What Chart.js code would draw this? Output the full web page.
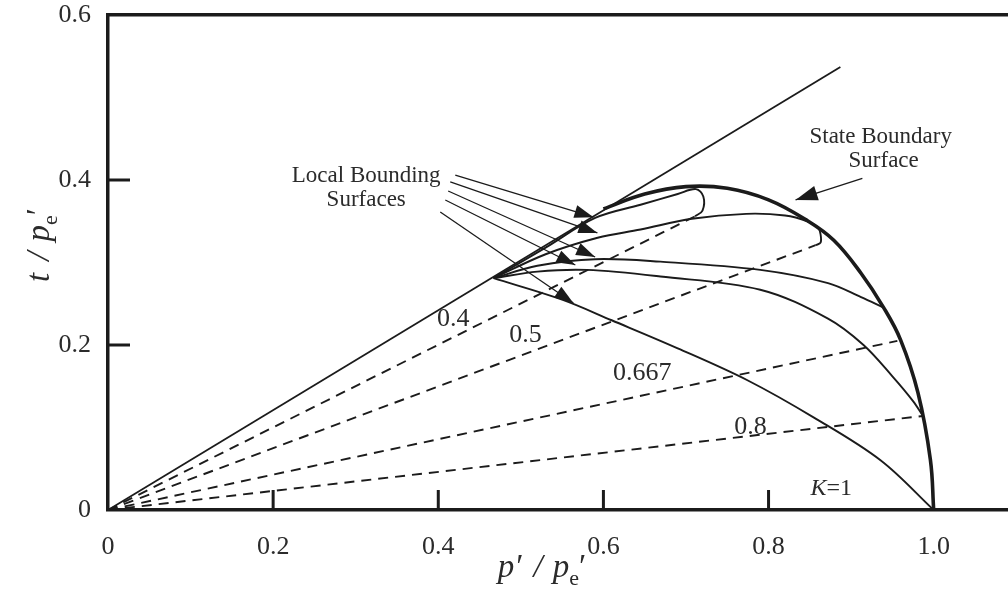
<!DOCTYPE html>
<html><head><meta charset="utf-8">
<script src="https://cdn.jsdelivr.net/npm/chart.js@4.4.0/dist/chart.umd.min.js"></script>
<style>html,body{margin:0;padding:0;background:#fff;}canvas{display:block;}</style>
</head><body>
<canvas id="c" width="1008" height="592"></canvas>
<script>
// ---- tick labels ----
const xTickValues = [0, 0.2, 0.4, 0.6, 0.8, 1.0];
const xTickLabels = ['0', '0.2', '0.4', '0.6', '0.8', '1.0'];
const yTickValues = [0, 0.2, 0.4, 0.6];
const yTickLabels = ['0', '0.2', '0.4', '0.6'];

// ---- critical state line ----
const cslP = [0, 0.887];
const cslT = [0, 0.537];

// ---- K lines (dashed) ----
const kLabels = ['0.4', '0.5', '0.667', '0.8'];
const kEndP = [0.711, 0.857, 0.956, 0.987];
const kEndT = [0.356, 0.321, 0.205, 0.114];

// ---- state boundary surface ----
const sbsP = [0.600, 0.650, 0.700, 0.750, 0.800, 0.845, 0.879, 0.912, 0.939, 0.960, 0.981, 0.996, 1.000];
const sbsT = [0.365, 0.383, 0.392, 0.390, 0.376, 0.352, 0.327, 0.287, 0.246, 0.206, 0.142, 0.061, 0.000];

// ---- local bounding surfaces ----
const lbs04P = [0.467, 0.530, 0.590, 0.645, 0.690, 0.712, 0.721, 0.720, 0.711];
const lbs04T = [0.281, 0.318, 0.354, 0.370, 0.383, 0.389, 0.380, 0.363, 0.356];
const lbs05P = [0.467, 0.530, 0.593, 0.645, 0.707, 0.773, 0.820, 0.847, 0.860, 0.863, 0.863, 0.857];
const lbs05T = [0.281, 0.310, 0.330, 0.340, 0.353, 0.359, 0.357, 0.350, 0.342, 0.334, 0.324, 0.321];
const lbs0667P = [0.467, 0.520, 0.590, 0.669, 0.790, 0.872, 0.912, 0.940];
const lbs0667T = [0.281, 0.296, 0.304, 0.301, 0.291, 0.275, 0.258, 0.245];
const lbs08P = [0.467, 0.520, 0.580, 0.669, 0.790, 0.872, 0.915, 0.950, 0.975, 0.987];
const lbs08T = [0.281, 0.289, 0.291, 0.283, 0.267, 0.232, 0.200, 0.162, 0.132, 0.114];
const lbs1P = [0.467, 0.550, 0.610, 0.690, 0.775, 0.855, 0.936, 1.000];
const lbs1T = [0.281, 0.255, 0.230, 0.196, 0.157, 0.112, 0.060, 0.000];

// ---- annotation leaders ----
const leadFromP = [0.4206, 0.4145, 0.4120, 0.4085, 0.4024, 0.9136];
const leadFromT = [0.4060, 0.3976, 0.3867, 0.3758, 0.3612, 0.4021];
const leadToP   = [0.5880, 0.5927, 0.5900, 0.5660, 0.5636, 0.8327];
const leadToT   = [0.3550, 0.3358, 0.3067, 0.2970, 0.2510, 0.3758];

// ---- text annotation anchors (data coords) ----
const kLabelP = [0.418, 0.5055, 0.647, 0.778];
const kLabelT = [0.2315, 0.212, 0.166, 0.1006];
const k1LabelAt = [0.876, 0.0255];
const lbsTextAt = [[0.3127, 0.4048], [0.3127, 0.3758]];
const sbsTextAt = [[0.9358, 0.452], [0.9394, 0.423]];

const SERIF = '"Liberation Serif", "Times New Roman", serif';
const INK = '#1b1b1b';
const TXT = '#2b2b2b';

const pts = (P, T) => P.map((p, i) => ({x: p, y: T[i]}));
const base = {showLine: true, pointRadius: 0, borderColor: INK, fill: false};

const datasets = [];
datasets.push({...base, data: pts(sbsP, sbsT), borderWidth: 3.6, tension: 0.4});
datasets.push({...base, data: pts(cslP, cslT), borderWidth: 1.8, tension: 0});
kEndP.forEach((p, i) => datasets.push({...base, data: [{x: 0, y: 0}, {x: p, y: kEndT[i]}], borderWidth: 1.9, borderDash: [10, 7], tension: 0}));
[[lbs04P, lbs04T], [lbs05P, lbs05T], [lbs0667P, lbs0667T], [lbs08P, lbs08T], [lbs1P, lbs1T]].forEach(([P, T]) =>
  datasets.push({...base, data: pts(P, T), borderWidth: 1.9, tension: 0.35}));
leadFromP.forEach((p, i) => datasets.push({...base, data: [{x: p, y: leadFromT[i]}, {x: leadToP[i], y: leadToT[i]}], borderWidth: 1.3, tension: 0}));

function drawRich(ctx, parts, x, y) {
  let w = 0;
  parts.forEach(p => { ctx.font = p.font; p.w = ctx.measureText(p.t).width; w += p.w + (p.dx || 0); });
  let cx = x - w / 2;
  parts.forEach(p => { ctx.font = p.font; cx += (p.dx || 0); ctx.fillText(p.t, cx, y + (p.dy || 0)); cx += p.w; });
}

function arrowHead(ctx, x1, y1, x2, y2, len, half) {
  const a = Math.atan2(y2 - y1, x2 - x1);
  const c = Math.cos(a), s = Math.sin(a);
  ctx.beginPath();
  ctx.moveTo(x2, y2);
  ctx.lineTo(x2 - len * c + half * s, y2 - len * s - half * c);
  ctx.lineTo(x2 - len * c - half * s, y2 - len * s + half * c);
  ctx.closePath();
  ctx.fill();
}

const annot = {
  id: 'annot',
  afterDatasetsDraw(chart) {
    const {ctx, scales: {x, y}} = chart;
    const X = v => x.getPixelForValue(v), Y = v => y.getPixelForValue(v);
    ctx.save();
    // inner tick marks
    ctx.strokeStyle = INK; ctx.lineWidth = 3;
    xTickValues.forEach(v => { if (v > 0 && v < 1) { ctx.beginPath(); ctx.moveTo(X(v), Y(0)); ctx.lineTo(X(v), Y(0) - 20); ctx.stroke(); } });
    yTickValues.forEach(v => { if (v > 0 && v < 0.6) { ctx.beginPath(); ctx.moveTo(X(0), Y(v)); ctx.lineTo(X(0) + 22, Y(v)); ctx.stroke(); } });
    // arrowheads
    ctx.fillStyle = INK;
    leadFromP.forEach((p, i) => {
      const big = i === leadFromP.length - 1;
      arrowHead(ctx, X(p), Y(leadFromT[i]), X(leadToP[i]), Y(leadToT[i]), big ? 22 : 19, big ? 7.5 : 6.5);
    });
    // texts
    ctx.fillStyle = TXT; ctx.textBaseline = 'middle'; ctx.textAlign = 'center';
    ctx.font = '26px ' + SERIF;
    kLabels.forEach((t, i) => ctx.fillText(t, X(kLabelP[i]), Y(kLabelT[i])));
    ctx.textAlign = 'left';
    drawRich(ctx, [{t: 'K', font: 'italic 24px ' + SERIF}, {t: '=1', font: '24px ' + SERIF}], X(k1LabelAt[0]), Y(k1LabelAt[1]));
    ctx.textAlign = 'center';
    ctx.font = '23px ' + SERIF;
    ctx.fillText('Local Bounding', X(lbsTextAt[0][0]), Y(lbsTextAt[0][1]));
    ctx.fillText('Surfaces', X(lbsTextAt[1][0]), Y(lbsTextAt[1][1]));
    ctx.fillText('State Boundary', X(sbsTextAt[0][0]), Y(sbsTextAt[0][1]));
    ctx.fillText('Surface', X(sbsTextAt[1][0]), Y(sbsTextAt[1][1]));
    // axis titles
    ctx.textAlign = 'left'; ctx.textBaseline = 'alphabetic';
    const it = 'italic 33px ' + SERIF, sub = '22px ' + SERIF;
    drawRich(ctx, [{t: 'p′', font: it}, {t: '/', font: it, dx: 12}, {t: 'p', font: it, dx: 10}, {t: 'e', font: sub, dy: 8}, {t: '′', font: it, dx: -2}], 541, 577);
    ctx.translate(49, 246);
    ctx.rotate(-Math.PI / 2);
    drawRich(ctx, [{t: 't', font: it}, {t: '/', font: it, dx: 12}, {t: 'p', font: it, dx: 10}, {t: 'e', font: sub, dy: 8}, {t: '′', font: it, dx: -2}], 0, 0);
    ctx.restore();
  }
};

const tickFont = {family: SERIF, size: 26};
new Chart(document.getElementById('c'), {
  type: 'scatter',
  data: {datasets},
  options: {
    responsive: false, animation: false, devicePixelRatio: 1, events: [],
    layout: {padding: 0},
    plugins: {legend: {display: false}, tooltip: {enabled: false}},
    scales: {
      x: {
        type: 'linear', position: 'bottom', min: 0, max: 1.09,
        grid: {display: false, drawTicks: false},
        border: {display: true, width: 3.5, color: INK},
        afterBuildTicks: a => { a.ticks = xTickValues.map(v => ({value: v})); },
        afterFit: s => { s.height = 82; s.paddingLeft = 0; s.paddingRight = 0; },
        ticks: {font: tickFont, color: TXT, padding: 22, maxRotation: 0, autoSkip: false,
          callback: (v) => xTickLabels[xTickValues.findIndex(t => Math.abs(t - v) < 1e-9)]}
      },
      xTop: {
        type: 'linear', position: 'top', min: 0, max: 1.09,
        grid: {display: false, drawTicks: false},
        border: {display: true, width: 3.5, color: INK},
        ticks: {display: false},
        afterFit: s => { s.height = 15; s.paddingLeft = 0; s.paddingRight = 0; }
      },
      y: {
        type: 'linear', position: 'left', min: 0, max: 0.6,
        grid: {display: false, drawTicks: false},
        border: {display: true, width: 3.5, color: INK},
        afterBuildTicks: a => { a.ticks = yTickValues.map(v => ({value: v})); },
        afterFit: s => { s.width = 108; s.paddingTop = 0; s.paddingBottom = 0; },
        ticks: {font: tickFont, color: TXT, padding: 17, autoSkip: false,
          callback: (v) => yTickLabels[yTickValues.findIndex(t => Math.abs(t - v) < 1e-9)]}
      }
    }
  },
  plugins: [annot]
});
</script>
</body></html>
